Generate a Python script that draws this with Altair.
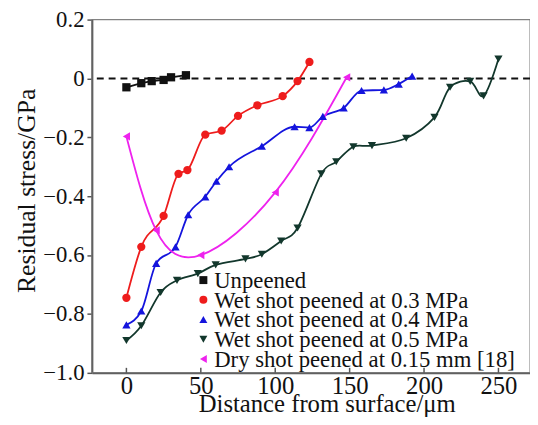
import altair as alt
import pandas as pd

series_names = [
    "Unpeened",
    "Wet shot peened at 0.3 MPa",
    "Wet shot peened at 0.4 MPa",
    "Wet shot peened at 0.5 MPa",
    "Dry shot peened at 0.15 mm [18]",
]
colors = ["#111111", "#ee1c1c", "#1414dd", "#12372c", "#ee22ee"]
shapes = ["square", "circle", "triangle-up", "triangle-down", "triangle-left"]

unpeened_x = [0, 10, 17, 25, 30, 40]
unpeened_y = [-0.03, -0.016, -0.009, -0.005, 0.004, 0.011]

wet03_x = [0, 10, 25, 35, 41, 53, 64, 75, 88, 105, 115, 123]
wet03_y = [-0.745, -0.572, -0.467, -0.324, -0.311, -0.191, -0.177, -0.127, -0.091, -0.06, -0.009, 0.056]

wet04_x = [0, 10, 20, 33, 41.5, 53, 60.5, 69, 91, 113, 123, 132, 146, 158, 173, 183, 192]
wet04_y = [-0.837, -0.79, -0.628, -0.572, -0.463, -0.402, -0.349, -0.3, -0.23, -0.164, -0.167, -0.129,
           -0.1, -0.041, -0.039, -0.019, 0.008]

wet05_x = [0, 10, 23, 34, 48, 60, 80, 91, 104, 115, 131, 141, 152.5, 165, 188, 207, 217.5, 231, 240, 250]
wet05_y = [-0.89, -0.84, -0.727, -0.686, -0.663, -0.633, -0.613, -0.597, -0.552, -0.508, -0.324,
           -0.283, -0.232, -0.228, -0.203, -0.132, -0.03, -0.01, -0.059, 0.066]

dry_x = [0, 20, 50, 100, 148]
dry_y = [-0.197, -0.516, -0.6, -0.387, 0.004]

x_ticks = [0, 50, 100, 150, 200, 250]
y_ticks = [-1.0, -0.8, -0.6, -0.4, -0.2, 0.0, 0.2]

all_x = [unpeened_x, wet03_x, wet04_x, wet05_x, dry_x]
all_y = [unpeened_y, wet03_y, wet04_y, wet05_y, dry_y]
interps = ["linear", "monotone", "monotone", "cardinal", "natural"]

rows = []
for name, xs, ys in zip(series_names, all_x, all_y):
    for x, y in zip(xs, ys):
        rows.append({"series": name, "x": x, "y": y})
df = pd.DataFrame(rows)

FONT = "Liberation Serif"
xscale = alt.Scale(domain=[-23.2, 271.2], nice=False, zero=False)
yscale = alt.Scale(domain=[-1.0, 0.2], nice=False, zero=False)
cscale = alt.Scale(domain=series_names, range=colors)
sscale = alt.Scale(domain=series_names, range=shapes)

xax = alt.Axis(values=x_ticks, title="Distance from surface/μm", grid=False, ticks=False,
               labelFontSize=25, titleFontSize=25, labelFont=FONT, titleFont=FONT,
               labelColor="#111", titleColor="#111", domainColor="#555",
               domainWidth=2, labelPadding=1,
               titleX=238, titleY=39, titleBaseline="alphabetic",
               titleFontWeight="normal")
yax = alt.Axis(values=y_ticks, title="Residual stress/GPa", grid=False,
               labelExpr="datum.value == 0 ? '0' : format(datum.value, '.1f')",
               labelFontSize=23, titleFontSize=26, labelFont=FONT, titleFont=FONT,
               labelColor="#111", titleColor="#111", tickColor="#555", domainColor="#555",
               domainWidth=2, tickSize=5, tickWidth=1.5, labelPadding=3,
               titleX=-58, titleY=173, titleBaseline="alphabetic",
               titleFontWeight="normal")

zero_df = pd.DataFrame({"y": [0.0]})
zero_line = alt.Chart(zero_df).mark_rule(color="#111", strokeDash=[7, 5], strokeWidth=2).encode(
    y=alt.Y("y:Q", scale=yscale, axis=yax)
)

tick_df = pd.DataFrame({"x": x_ticks, "y": [-1.0] * len(x_ticks), "y2": [-0.983] * len(x_ticks)})
xticks_layer = alt.Chart(tick_df).mark_rule(color="#555", strokeWidth=1.5).encode(
    x=alt.X("x:Q", scale=xscale, axis=xax),
    y=alt.Y("y:Q", scale=yscale, axis=yax),
    y2="y2:Q",
)

frame = alt.Chart(zero_df).mark_rect(fill=None, stroke="#777", strokeWidth=1).encode(
    x=alt.value(0), x2=alt.value(444), y=alt.value(0), y2=alt.value(358)
)

layers = [frame, zero_line, xticks_layer]
for name, interp in zip(series_names, interps):
    sub = df[df["series"] == name]
    layers.append(
        alt.Chart(sub).mark_line(interpolate=interp, strokeWidth=1.8).encode(
            x=alt.X("x:Q", scale=xscale, axis=xax),
            y=alt.Y("y:Q", scale=yscale, axis=yax),
            stroke=alt.Stroke("series:N", scale=cscale, legend=None),
        )
    )

points = alt.Chart(df).mark_point(filled=True, size=70, opacity=1).encode(
    x=alt.X("x:Q", scale=xscale, axis=xax),
    y=alt.Y("y:Q", scale=yscale, axis=yax),
    color=alt.Color("series:N", scale=cscale, legend=None),
    shape=alt.Shape("series:N", scale=sscale, legend=None),
)
layers.append(points)
main = alt.layer(*layers)

# manual legend (rows 20 px apart)
legend_df = pd.DataFrame({"series": series_names, "rank": list(range(len(series_names)))})
leg_y = alt.Y("rank:O", axis=None,
              scale=alt.Scale(type="point", domain=list(range(len(series_names))),
                              range=[264, 344], padding=0))
leg_sym = alt.Chart(legend_df).mark_point(filled=True, size=65, opacity=1).encode(
    x=alt.value(113), y=leg_y,
    color=alt.Color("series:N", scale=cscale, legend=None),
    shape=alt.Shape("series:N", scale=sscale, legend=None),
)
leg_txt = alt.Chart(legend_df).mark_text(align="left", baseline="middle", font=FONT,
                                         fontSize=23, color="#111", dy=1).encode(
    x=alt.value(124), y=leg_y, text="series:N"
)
legend = alt.layer(leg_sym, leg_txt)

chart = alt.layer(main, legend).resolve_scale(y="independent", stroke="independent").properties(
    width=444, height=358,
    autosize=alt.AutoSizeParams(type="none"),
    padding={"left": 85, "top": 9, "right": 0, "bottom": 42},
).configure_view(stroke=None).configure(background="white")

chart.save("out.html", embed_options={"renderer": "svg", "actions": False})
